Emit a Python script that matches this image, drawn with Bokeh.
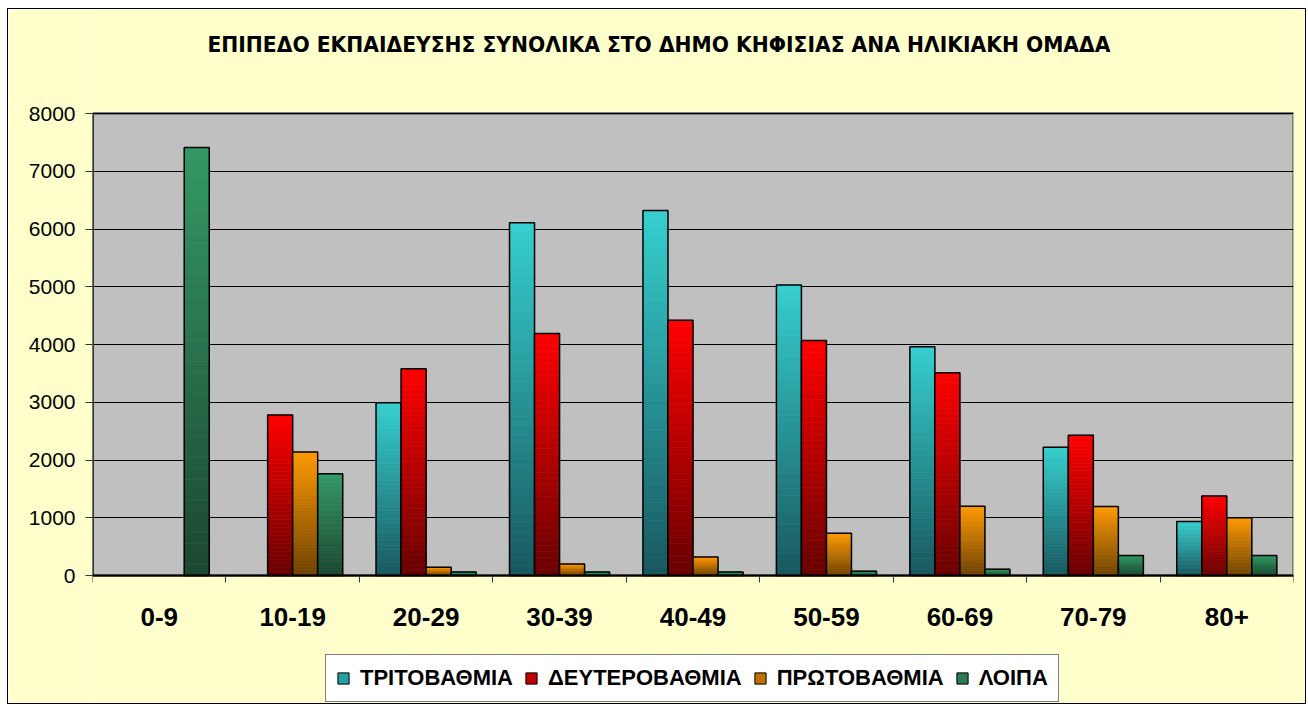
from bokeh.plotting import figure
from bokeh.models import (ColumnDataSource, FixedTicker, Legend, LegendItem, Range1d, Label)
from bokeh.embed import file_html
from bokeh.resources import INLINE

categories = ["0-9", "10-19", "20-29", "30-39", "40-49", "50-59", "60-69", "70-79", "80+"]
tritovathmia = [0, 0, 2990, 6110, 6320, 5030, 3960, 2220, 935]
defterovathmia = [0, 2780, 3580, 4190, 4420, 4070, 3510, 2430, 1375]
protovathmia = [0, 2140, 145, 200, 320, 730, 1200, 1195, 1000]
loipa = [7410, 1760, 60, 60, 60, 75, 110, 345, 345]
series_names = ["ΤΡΙΤΟΒΑΘΜΙΑ", "ΔΕΥΤΕΡΟΒΑΘΜΙΑ", "ΠΡΩΤΟΒΑΘΜΙΑ", "ΛΟΙΠΑ"]
y_ticks = [0, 1000, 2000, 3000, 4000, 5000, 6000, 7000, 8000]
y_max = 8000
title_text = "ΕΠΙΠΕΔΟ ΕΚΠΑΙΔΕΥΣΗΣ ΣΥΝΟΛΙΚΑ ΣΤΟ ΔΗΜΟ ΚΗΦΙΣΙΑΣ ΑΝΑ ΗΛΙΚΙΑΚΗ ΟΜΑΔΑ"

series = [tritovathmia, defterovathmia, protovathmia, loipa]
bright = [(0x36, 0xCF, 0xCF), (0xFF, 0x00, 0x00), (0xFF, 0x99, 0x00), (0x33, 0x99, 0x66)]
dark = [(0x18, 0x58, 0x5E), (0x68, 0x00, 0x00), (0x6E, 0x42, 0x00), (0x1C, 0x46, 0x30)]
mid = ["#27A0A3", "#C00000", "#C07000", "#2A7A52"]

# layout (pixels): the frame covers the whole inner height; the grey plot area is drawn inside it
FRAME_H = 694          # inner figure height
PLOT_TOP = 104         # from frame top to the 8000 line
PLOT_H = 462           # height of the 0..8000 area
below_px = FRAME_H - PLOT_TOP - PLOT_H
per_px = y_max / PLOT_H
y_start = -below_px * per_px
y_end = y_max + PLOT_TOP * per_px

p = figure(output_backend="svg", toolbar_location=None,
           x_range=Range1d(0, len(categories)), y_range=Range1d(y_start, y_end),
           frame_width=1201, frame_height=FRAME_H,
           min_border_left=84, min_border_right=12, min_border_top=0, min_border_bottom=0,
           background_fill_color="#FFFFCC", border_fill_color="#FFFFCC",
           outline_line_color=None)
p.styles = {"border": "1px solid black", "margin-left": "7px", "margin-top": "8px"}

# grey plot area
p.quad(left=[0], right=[len(categories)], bottom=[0], top=[y_max],
       fill_color="#C0C0C0", line_color="#808080", line_width=3, level="image")

bw = 0.1875
N = 40

def hexcol(a, b, t):
    c = [round(a[i] + (b[i] - a[i]) * t) for i in range(3)]
    return "#%02x%02x%02x" % tuple(c)

legend_items = []
for j, vals in enumerate(series):
    L, R, B, T, C = [], [], [], [], []
    oL, oR, oT = [], [], []
    for i, v in enumerate(vals):
        if v <= 0:
            continue
        left = i + 0.5 + (j - 2) * bw
        for k in range(N):
            L.append(left); R.append(left + bw)
            B.append(v * k / N); T.append(v * (k + 1) / N)
            C.append(hexcol(dark[j], bright[j], (k + 0.5) / N))
        oL.append(left); oR.append(left + bw); oT.append(v)
    src = ColumnDataSource(dict(left=L, right=R, bottom=B, top=T, color=C))
    p.quad(left="left", right="right", bottom="bottom", top="top", source=src,
           fill_color="color", line_color="color", line_width=0.6)
    osrc = ColumnDataSource(dict(left=oL, right=oR, top=oT, bottom=[0] * len(oT)))
    p.quad(left="left", right="right", bottom="bottom", top="top", source=osrc,
           fill_color=None, line_color="black", line_width=1.5)
    # legend swatch renderer (zero-size quad at the axis origin)
    swatch = p.quad(left=[0], right=[0], bottom=[0], top=[0], fill_color=mid[j],
                    line_color="black", line_width=1)
    legend_items.append(LegendItem(label=series_names[j], renderers=[swatch]))

# y axis line (only along the plot area)
p.segment(x0=[0], y0=[0], x1=[0], y1=[y_max], line_color="#333333", line_width=3)

# y axis
p.yaxis.ticker = FixedTicker(ticks=y_ticks)
p.yaxis.major_label_text_font = "Liberation Sans"
p.yaxis.major_label_text_font_size = "21px"
p.yaxis.major_label_text_color = "black"
p.yaxis.major_label_standoff = 10
p.yaxis.major_tick_out = 7
p.yaxis.major_tick_in = 0
p.yaxis.minor_tick_line_color = None
p.yaxis.axis_line_color = None
p.yaxis.major_tick_line_color = "#333333"

# x axis drawn at y = 0: labels at group centres, minor ticks at group boundaries
p.xaxis.fixed_location = 0
p.xaxis.ticker = FixedTicker(ticks=[i + 0.5 for i in range(len(categories))],
                             minor_ticks=list(range(len(categories) + 1)))
p.xaxis.major_label_overrides = {i + 0.5: c for i, c in enumerate(categories)}
p.xaxis.major_tick_line_color = None
p.xaxis.minor_tick_line_color = "#333333"
p.xaxis.minor_tick_out = 7
p.xaxis.minor_tick_in = 0
p.xaxis.axis_line_color = "black"
p.xaxis.axis_line_width = 2
p.xaxis.major_label_text_font = "Liberation Sans"
p.xaxis.major_label_text_font_style = "bold"
p.xaxis.major_label_text_font_size = "26px"
p.xaxis.major_label_text_color = "black"
p.xaxis.major_label_standoff = 25

p.xgrid.grid_line_color = None
p.ygrid.grid_line_color = "black"
p.ygrid.grid_line_width = 1

title = Label(x=115, y=FRAME_H - 44 + 9, x_units="screen", y_units="screen",
              text=title_text, text_font="DejaVu Sans", text_font_style="bold",
              text_font_size="20.3px", text_color="black",
              text_align="left", text_baseline="middle")
p.add_layout(title)

legend = Legend(items=legend_items, orientation="horizontal", location=(233, 1),
                border_line_color="black", border_line_width=1,
                background_fill_color="#FFFFFF", background_fill_alpha=1,
                label_text_font="Liberation Sans", label_text_font_style="bold",
                label_text_font_size="22px", label_text_color="black",
                label_height=23, glyph_width=14, glyph_height=14, spacing=11,
                padding=10, margin=0, label_standoff=10)
p.add_layout(legend, "center")

open("out.html", "w").write(file_html(p, INLINE))
